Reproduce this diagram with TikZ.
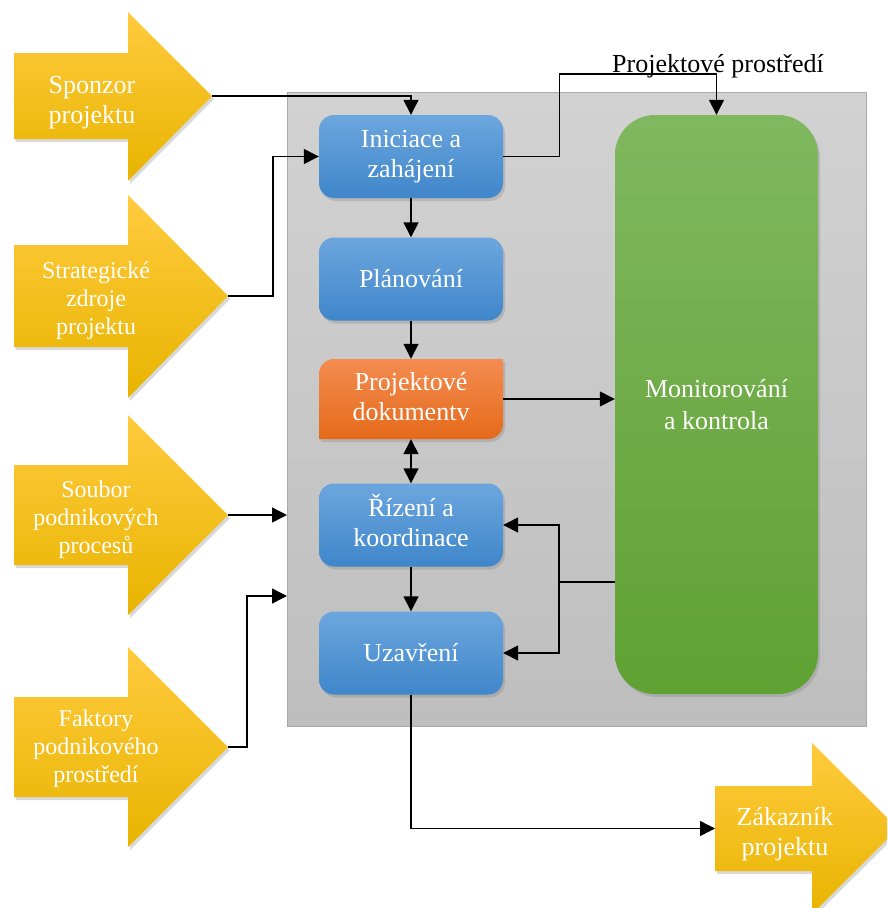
\documentclass[tikz,border=0pt]{standalone}
\usepackage{fontspec}
\setmainfont{Liberation Serif}
\usetikzlibrary{arrows.meta,shadows}
\definecolor{ylTop}{HTML}{FFCB3E}
\definecolor{ylMid}{HTML}{FFC000}
\definecolor{ylBot}{HTML}{E8B400}
\definecolor{blTop}{HTML}{6CA6DE}
\definecolor{blBot}{HTML}{3F86CA}
\definecolor{grTop}{HTML}{80B860}
\definecolor{grBot}{HTML}{5FA132}
\definecolor{orTop}{HTML}{F48C50}
\definecolor{orBot}{HTML}{E56A1A}
\definecolor{envTop}{HTML}{D2D2D2}
\definecolor{envBot}{HTML}{BEBEBE}
\definecolor{envLine}{HTML}{A9A9A9}
\newcommand\twol[2]{\raisebox{-5pt}{\begin{tabular}{@{}c@{}}#1\\#2\end{tabular}}}
\begin{document}
\begin{tikzpicture}[x=1pt,y=-1pt,
  con/.style={draw=black,line width=1.4pt,-{Triangle[length=15pt,width=15pt]}},
  dcon/.style={draw=black,line width=1.4pt,{Triangle[length=15pt,width=15pt]}-{Triangle[length=15pt,width=15pt]}},
  plain/.style={draw=black,line width=1.4pt},
  shad/.style={drop shadow={opacity=0.3,shadow xshift=2pt,shadow yshift=-3pt}},
  bluebox/.style={shad,rounded corners=15pt,top color=blTop,bottom color=blBot,
    minimum width=184pt,minimum height=83pt,inner sep=0pt,text=white,align=center,
    font=\fontsize{26}{30}\selectfont},
  yarrow/.style={shad,top color=ylTop,middle color=ylMid,bottom color=ylBot},
  ytext/.style={text=white,align=center,inner sep=0pt},
  bigfont/.style={font=\fontsize{26}{30}\selectfont},
  smallfont/.style={font=\fontsize{24}{28}\selectfont},
]
\useasboundingbox (0,0) rectangle (887,908);
\clip (0,0) rectangle (887,908);

% environment box
\node[draw=envLine,line width=1pt,top color=envTop,bottom color=envBot,
  minimum width=579pt,minimum height=634pt,inner sep=0pt,anchor=north west] (env) at (287,92) {};
\node[anchor=base,font=\fontsize{26}{30}\selectfont] (envlabel) at (718,72) {Projektové prostředí};

% yellow input arrows
\path[yarrow] (14,53) -- (128,53) -- (128,12) -- (212,96) -- (128,181) -- (128,139) -- (14,139) -- cycle;
\coordinate (spT) at (212,96);
\node[ytext,bigfont] (sp) at (92,103) {Sponzor\\projektu};

\path[yarrow] (14,245) -- (128,245) -- (128,195) -- (228,296) -- (128,398) -- (128,347) -- (14,347) -- cycle;
\coordinate (stT) at (228,296);
\node[ytext,smallfont] (st) at (96,301) {Strategické\\zdroje\\projektu};

\path[yarrow] (14,465) -- (128,465) -- (128,415) -- (228,515) -- (128,615) -- (128,565) -- (14,565) -- cycle;
\coordinate (soT) at (228,515);
\node[ytext,smallfont] (so) at (96,520) {Soubor\\podnikových\\procesů};

\path[yarrow] (14,697) -- (128,697) -- (128,647) -- (228,747) -- (128,847) -- (128,797) -- (14,797) -- cycle;
\coordinate (faT) at (228,747);
\node[ytext,smallfont] (fa) at (96,749) {Faktory\\podnikového\\prostředí};

% output arrow
\path[yarrow] (715,786) -- (812,786) -- (812,743) -- (898,828.5) -- (812,914) -- (812,871) -- (715,871) -- cycle;
\coordinate (zaL) at (715,828.5);
\node[ytext,bigfont] (za) at (785,834) {Zákazník\\projektu};

% process boxes
\node[bluebox] (ini) at (411,156.5) {\twol{Iniciace a}{zahájení}};
\node[bluebox] (pla) at (411,279) {\raisebox{-3pt}{Plánování}};
\path[shad,top color=orTop,bottom color=orBot]
  [rounded corners=15pt] (319,359) rectangle (503,439)
  [sharp corners] (470,359) rectangle (503,390)
  (319,405) rectangle (352,439);
\node[minimum width=184pt,minimum height=80pt,inner sep=0pt,text=white,align=center,
  font=\fontsize{26}{30}\selectfont] (doc) at (411,399) {\twol{Projektové}{dokumentv}};
\node[bluebox] (riz) at (411,525) {\twol{Řízení a}{koordinace}};
\node[bluebox] (uza) at (411,653) {\raisebox{-3pt}{Uzavření}};
\node[shad,rounded corners=40pt,top color=grTop,bottom color=grBot,
  minimum width=203pt,minimum height=579pt,inner sep=0pt,text=white,align=center,
  font=\fontsize{26}{32}\selectfont] (mon) at (716.5,404.5) {Monitorování\\a kontrola};

% connectors
\draw[con] (spT) -| (ini.north);
\draw[con] (stT) -- ++(45,0) |- (ini.west);
\draw[con] (ini.south) -- (pla.north);
\draw[con] (pla.south) -- (doc.north);
\draw[dcon] (doc.south) -- (riz.north);
\draw[con] (riz.south) -- (uza.north);
\draw[con] (ini.east) -- ++(56,0) -- ++(0,-82.5) -| (mon.north);
\draw[con] (doc.east) -- (doc.east -| mon.west);
\coordinate (j) at (559,582);
\draw[plain] (mon.west |- j) -- (j);
\draw[con] (j) |- (riz.east);
\draw[con] (j) |- (uza.east);
\draw[con] (soT) -- (soT -| env.west);
\coordinate (faIn) at (287,596);
\draw[con] (faT) -- ++(19,0) |- (faIn);
\draw[con] (uza.south) |- (zaL);
\end{tikzpicture}
\end{document}
